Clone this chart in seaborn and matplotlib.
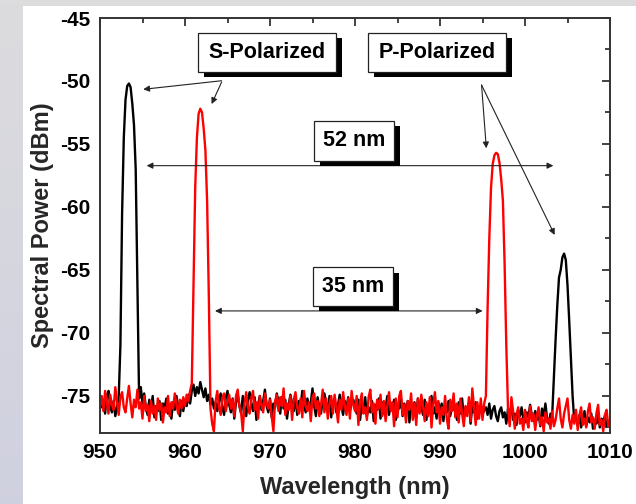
import numpy as np
import pandas as pd
import matplotlib
matplotlib.use("Agg")
import matplotlib.pyplot as plt
import seaborn as sns
from matplotlib.patches import Rectangle
from matplotlib.ticker import MultipleLocator

# Sampling grid of the optical spectrum analyser (nm)
wavelength = np.round(np.arange(950.0, 1010.0001, 0.2), 1)

# Output spectrum A (dBm): S line near 953.5 nm, P line near 1004.6 nm
spectrum_a = [
    -75.2, -75.9, -75.5, -76.4, -75.0, -74.6, -75.8, -76.3, -75.4, -76.6, -75.9, -75.1,
    -71.0, -60.5, -54.5, -51.5, -50.4, -50.2, -50.5, -51.8, -53.5, -57.0, -66.0, -75.2,
    -74.3, -75.6, -74.8, -75.9, -76.5, -75.3, -76.1, -75.0, -76.7, -75.8,
    -76.2, -75.4, -76.9, -75.6, -76.0, -75.2, -76.4, -75.7, -76.8, -75.5,
    -76.1, -75.0, -75.9, -76.6, -75.4, -76.2, -75.3, -75.8, -74.9, -75.6,
    -74.6, -74.1, -75.0, -74.3, -74.8, -73.9, -74.5, -75.1, -74.4, -75.4,
    -74.9, -75.7, -75.2, -76.0, -75.5,
    -76.2, -75.4, -74.8, -75.9, -76.5, -75.1, -74.6, -75.7, -76.3, -75.2,
    -76.8, -75.5, -74.9, -75.8, -76.4, -75.0, -75.9, -76.6, -75.3, -74.7,
    -75.6, -76.2, -75.1, -76.9, -75.7, -75.0, -76.1, -75.4, -74.5, -75.8,
    -76.3, -75.2, -76.7, -75.6, -75.9, -74.8, -75.5, -76.4, -75.1, -76.0,
    -75.3, -76.8, -75.7, -74.9, -75.6, -76.2, -75.0, -76.5, -75.4, -75.9,
    -74.6, -75.7, -76.3, -75.2, -76.0, -75.5, -74.4, -75.8, -76.6, -75.1,
    -75.9, -76.4, -75.3, -74.8, -75.6, -76.1, -75.0, -76.7, -75.5, -75.2,
    -76.3, -75.7, -74.9, -75.8, -76.5, -75.4, -76.0, -75.1, -76.2, -75.6, -75.3,
    -75.8, -76.4, -75.3, -76.9, -75.6, -76.2, -75.1, -76.6, -75.9, -76.3,
    -75.4, -77.0, -75.7, -76.1, -75.2, -76.8, -75.5, -76.4, -75.9, -75.0,
    -76.5, -75.7, -76.2, -75.3, -76.9, -75.8, -76.0, -75.1, -76.6, -75.6,
    -76.3, -75.4, -77.1, -75.9, -76.2, -75.5, -76.7, -75.2, -76.0, -75.8,
    -76.5, -75.3, -76.9, -75.7, -76.1, -75.0, -76.4, -75.9, -76.8, -75.5,
    -76.2, -75.6, -77.0, -75.8, -76.3, -75.4, -76.6, -75.9, -76.1, -75.7,
    -76.9, -75.5, -76.4, -75.2, -76.7, -75.9, -76.0, -75.6, -77.2, -75.8,
    -76.3, -75.5, -76.8, -76.0, -75.7, -76.5, -76.1,
    -75.9, -76.5, -75.6, -76.8, -76.1, -75.8, -76.6, -77.0, -76.2, -75.9,
    -76.7, -76.3, -77.2, -76.0, -76.5, -75.8, -76.9, -76.4, -77.3, -76.1,
    -76.6, -75.9, -76.8, -77.1, -76.3, -76.7, -75.7, -76.5, -77.0, -76.2,
    -76.9, -76.4, -77.4, -76.0, -76.6, -75.6, -76.8, -77.2, -76.4,
    -76.5, -73.5, -70.5, -67.8, -65.6, -65.0, -64.0, -63.7, -64.2, -66.2,
    -69.0, -72.0, -75.0, -77.0,
    -76.8, -77.3, -76.5, -77.5, -76.9, -76.2, -77.4, -76.7, -77.1, -76.4,
    -77.6, -76.9, -77.2, -76.3, -77.5, -76.8, -77.0, -76.6, -77.4, -77.1, -76.9,
]

# Output spectrum B (dBm): S line near 961.9 nm, P line near 996.7 nm
spectrum_b = [
    -75.8, -75.0, -76.2, -74.6, -75.5, -76.4, -74.9, -75.7, -76.1, -74.3,
    -75.4, -76.5, -75.1, -74.7, -75.9, -76.3, -75.2, -74.2, -75.6, -76.7,
    -75.3, -75.9, -74.5, -76.0, -75.5, -76.8, -75.0, -76.2, -75.7, -77.0,
    -75.4, -76.4, -75.8, -76.9, -75.2, -76.1, -75.6, -77.1, -75.9, -76.3,
    -75.0, -76.6, -75.5, -76.0, -74.8, -75.7, -76.4, -75.3, -76.0, -75.1,
    -75.8, -74.9, -75.4, -74.6,
    -74.0, -66.0, -58.5, -54.5, -52.6, -52.2, -52.5, -53.8, -55.5, -59.5, -67.0, -76.0,
    -77.2, -77.8, -75.4, -74.6, -75.9, -76.5, -75.1, -74.8, -76.2, -75.5,
    -74.9, -76.0, -75.3, -76.6, -75.0, -74.5, -75.8, -76.3, -77.8, -75.6,
    -74.7, -75.9, -76.4, -75.2, -74.6, -76.1, -75.5, -76.8, -75.0, -75.7,
    -76.3, -74.8, -75.6, -76.0, -75.3, -76.6, -77.8, -75.4, -74.9, -76.2,
    -75.1, -75.8, -74.4, -76.5, -75.6, -76.1, -75.0, -76.9, -75.3, -74.7,
    -75.9, -76.4, -75.2, -76.7, -74.6, -75.8, -76.2, -75.5, -77.0, -75.1,
    -74.8, -76.0, -75.4, -76.6, -75.7, -74.5, -76.3, -75.2, -76.8, -75.6,
    -75.0, -76.4, -74.9, -75.9, -77.1, -75.3, -76.1, -74.7, -75.8, -76.5,
    -75.2, -76.8, -74.6, -75.7, -76.2, -75.0, -77.3, -75.5, -74.8, -76.4,
    -75.9, -76.9, -75.1, -74.5, -76.3, -75.6, -77.2, -75.3, -76.0, -74.9,
    -76.6, -75.4, -77.0, -75.8, -74.7, -76.2, -75.5, -77.4, -75.2, -76.7,
    -75.0, -74.6, -76.5, -75.7, -77.1, -75.4, -76.1, -74.8, -76.9, -75.6,
    -77.3, -75.2, -76.4, -74.9, -75.8, -77.0, -75.5, -76.6, -75.1, -77.5,
    -75.7, -74.7, -76.3, -75.4, -77.2, -75.9, -76.5, -75.0, -76.8, -77.6,
    -75.3, -76.2, -74.8, -76.7, -75.6, -77.1, -75.2, -76.4, -77.4, -75.8,
    -76.6, -75.1, -77.0, -74.4, -75.9, -77.3, -75.5, -76.8, -75.2, -76.9, -75.6,
    -75.0, -68.0, -62.5, -58.5, -56.6, -55.9, -55.7, -55.8, -56.5, -57.8,
    -59.5, -64.5, -71.0, -76.0,
    -77.4, -75.1, -76.2, -77.6, -76.5, -75.9, -77.2, -76.8, -77.7, -76.1,
    -76.9, -77.5, -75.8, -77.0, -76.4, -77.7, -76.6, -75.9, -77.3, -76.7,
    -77.8, -76.3, -77.1, -76.8, -77.6, -76.2, -77.4, -76.9, -76.0, -75.2,
    -76.8, -77.5, -76.4, -75.8, -75.2, -76.9, -77.6, -76.5, -77.2, -76.1,
    -77.7, -76.6, -75.9, -77.3, -76.8, -77.5, -76.2, -75.6, -77.1, -76.7,
    -77.6, -76.4, -75.7, -77.3, -76.9, -77.8, -76.5, -76.1, -77.4, -76.9,
]

x_ticks = [950, 960, 970, 980, 990, 1000, 1010]
y_ticks = [-75, -70, -65, -60, -55, -50, -45]

box_labels = ["S-Polarized", "P-Polarized", "52 nm", "35 nm"]

df = pd.DataFrame({
    "wavelength": np.concatenate([wavelength, wavelength]),
    "power": np.concatenate([spectrum_a, spectrum_b]),
    "trace": ["A"] * len(wavelength) + ["B"] * len(wavelength),
})

sns.set_theme(style="white")
plt.rcParams["font.family"] = ["Liberation Sans", "DejaVu Sans"]
plt.rcParams["font.weight"] = "bold"
plt.rcParams["axes.unicode_minus"] = False

fig = plt.figure(figsize=(6.36, 5.04), dpi=100)
fig.patch.set_facecolor("white")

# slide-style backdrop: grey band on top, bluish gradient strip on the left
strip = fig.add_axes([0, 0, 23 / 636, 1])
grad = np.linspace(0, 1, 256).reshape(-1, 1)
top_c = np.array([0.863, 0.863, 0.870])
bot_c = np.array([0.815, 0.818, 0.878])
img = top_c[None, None, :] * (1 - grad[:, :, None]) + bot_c[None, None, :] * grad[:, :, None]
strip.imshow(img, aspect="auto", extent=[0, 1, 0, 1])
strip.axis("off")
fig.add_artist(Rectangle((0, 1 - 6 / 504), 1, 6 / 504, transform=fig.transFigure,
                         facecolor="#dcdcdd", edgecolor="none", zorder=0))

ax = fig.add_axes([100 / 636, 71 / 504, 510 / 636, 415 / 504])
ax.set_facecolor("white")

sns.lineplot(data=df, x="wavelength", y="power", hue="trace",
             palette={"A": "#000000", "B": "#ff0000"}, estimator=None,
             legend=False, linewidth=1.7, ax=ax)

ax.set_xlim(950, 1010)
ax.set_ylim(-77.94, -45)
ax.set_xticks(x_ticks)
ax.set_yticks(y_ticks)
ax.set_xticklabels([str(v) for v in x_ticks])
ax.set_yticklabels([str(v) for v in y_ticks])
ax.xaxis.set_minor_locator(MultipleLocator(5))
ax.yaxis.set_minor_locator(MultipleLocator(2.5))
ax.tick_params(which="both", direction="in", top=True, right=True,
               colors="#222222", width=1.2, labelcolor="black")
ax.tick_params(which="major", length=6, labelsize=15, pad=7)
ax.tick_params(which="minor", length=3.6)
for lab in ax.get_xticklabels() + ax.get_yticklabels():
    lab.set_fontweight("bold")
for sp in ax.spines.values():
    sp.set_visible(True)
    sp.set_color("#333333")
    sp.set_linewidth(1.4)

ax.set_xlabel("Wavelength (nm)", fontsize=17, fontweight="bold", labelpad=10)
ax.set_ylabel("Spectral Power (dBm)", fontsize=17, fontweight="bold", labelpad=4)


def shadow_box(x0, x1, y0, y1, text):
    dx, dy = 0.72, 0.43
    ax.add_patch(Rectangle((x0 + dx, y0 - dy), x1 - x0, y1 - y0, facecolor="black",
                           edgecolor="none", zorder=5, clip_on=False))
    ax.add_patch(Rectangle((x0, y0), x1 - x0, y1 - y0, facecolor="white",
                           edgecolor="#222222", linewidth=0.9, zorder=6, clip_on=False))
    ax.text((x0 + x1) / 2, (y0 + y1) / 2, text, ha="center", va="center",
            fontsize=15.5, fontweight="bold", color="black", zorder=7)


shadow_box(961.56, 977.76, -49.26, -46.17, box_labels[0])
shadow_box(981.49, 997.76, -49.26, -46.17, box_labels[1])
shadow_box(975.21, 984.61, -56.33, -53.18, box_labels[2])
shadow_box(975.09, 984.49, -67.85, -64.79, box_labels[3])

arrow = dict(arrowstyle="-|>", color="#222222", lw=0.8, mutation_scale=9,
             shrinkA=0, shrinkB=0)
both = dict(arrowstyle="<|-|>", color="#222222", lw=0.8, mutation_scale=9,
            shrinkA=0, shrinkB=0)

# pointers from the polarisation labels to their spectral lines
ax.annotate("", xy=(955.09, -50.66), xytext=(964.31, -49.98), arrowprops=arrow, zorder=8)
ax.annotate("", xy=(963.13, -51.83), xytext=(964.31, -50.08), arrowprops=arrow, zorder=8)
ax.annotate("", xy=(995.45, -55.34), xytext=(994.89, -50.32), arrowprops=arrow, zorder=8)
ax.annotate("", xy=(1003.49, -62.22), xytext=(994.89, -50.32), arrowprops=arrow, zorder=8)

# separation markers
ax.annotate("", xy=(955.49, -56.72), xytext=(1003.33, -56.72), arrowprops=both, zorder=4)
ax.annotate("", xy=(963.53, -68.25), xytext=(995.01, -68.25), arrowprops=both, zorder=4)

fig.savefig("out.png", dpi=100, facecolor=fig.get_facecolor())
